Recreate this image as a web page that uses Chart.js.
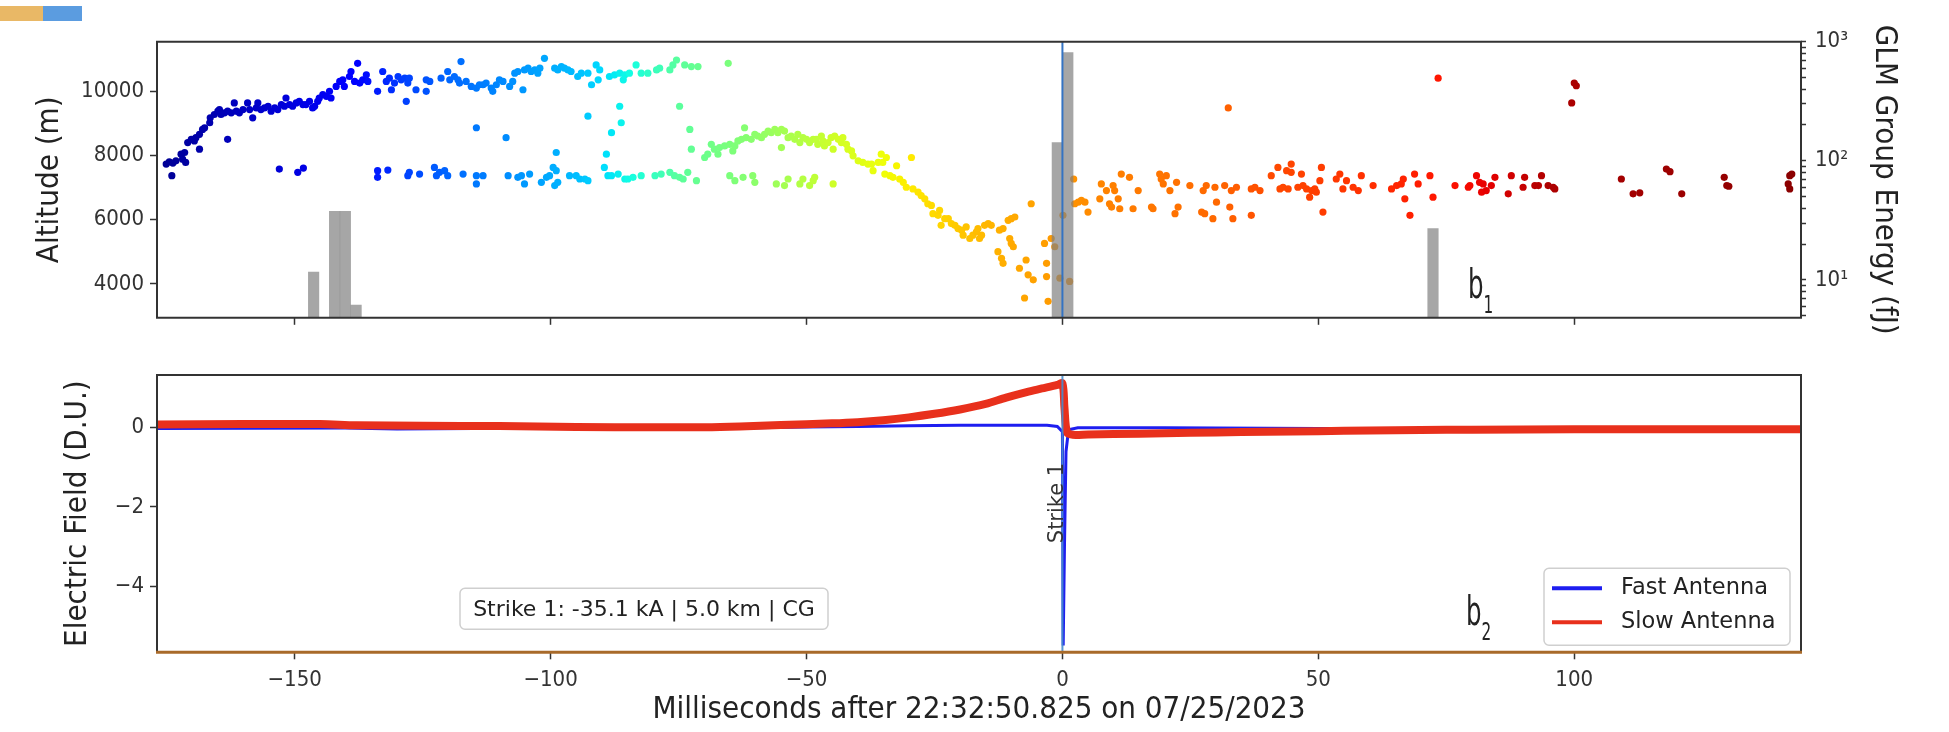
<!DOCTYPE html>
<html>
<head>
<meta charset="utf-8">
<script src="https://cdn.jsdelivr.net/npm/chart.js@4.4.1/dist/chart.umd.min.js"></script>
<style>
  body { margin: 0; background: #fff; width: 1949px; height: 732px; overflow: hidden; position: relative; }
  canvas { position: absolute; left: 0; }
  #topChart { top: 0; }
  #bottomChart { top: 340px; }
  .tab { position: absolute; top: 6px; height: 15px; }
</style>
</head>
<body>
<div class="tab" style="left:0;width:43px;background:#e9b866"></div>
<div class="tab" style="left:43px;width:39px;background:#5b9ce0"></div>
<canvas id="topChart" width="1949" height="340"></canvas>
<canvas id="bottomChart" width="1949" height="392"></canvas>
<script>
var narrow = "'DejaVu Sans Condensed', 'DejaVu Sans', sans-serif";
var plain = "'DejaVu Sans', sans-serif";

// axes
var timeRange = [-176.9, 144.3];
var timeTicks = [-150, -100, -50, 0, 50, 100];
var altRange = [2940, 11550];
var altTicks = [4000, 6000, 8000, 10000];
var energyRange = [4.8, 1000];
var energyTicks = [5, 6, 7, 8, 9, 10, 20, 30, 40, 50, 60, 70, 80, 90, 100, 200, 300, 400, 500, 600, 700, 800, 900, 1000];
var fieldRange = [-5.67, 1.33];
var fieldTicks = [-4, -2, 0];
var strikeTime = [0];

// lightning sources [ms, altitude m]
var upperEarly = [[-175.1,7733],[-174.5,7805],[-173.8,7764],[-174.0,7372],[-173.2,7836],[-172.2,8042],[-171.9,7887],[-171.3,7784],[-171.5,8094],[-170.9,8403],[-170.2,8506],[-169.6,8455],[-169.3,8558],[-168.6,8661],[-168.6,8197],[-168.0,8815],[-167.6,8867],[-166.6,9022],[-166.5,9176],[-165.7,9279],[-165.0,9382],[-164.7,9434],[-164.4,9279],[-163.7,9331],[-163.1,9382],[-163.1,8506],[-162.4,9331],[-161.8,9640],[-161.4,9382],[-160.8,9331],[-160.1,9434],[-159.2,9640],[-158.8,9434],[-158.2,9176],[-157.5,9486],[-157.2,9640],[-156.6,9434],[-155.9,9486],[-155.2,9537],[-154.6,9382],[-153.9,9486],[-153.3,9434],[-152.6,9589],[-152.0,9537],[-151.7,9795],[-151.0,9589],[-150.4,9537],[-149.7,9640],[-149.1,9692],[-148.4,9589],[-147.8,9589],[-147.1,9692],[-146.5,9486],[-146.1,9537],[-145.5,9692],[-145.2,9795],[-144.5,9898],[-143.8,9846],[-143.2,10001],[-142.9,9795],[-141.9,10156],[-141.2,10310],[-140.6,10362],[-140.3,10156],[-139.3,10465],[-139.0,10620],[-138.3,10310],[-137.7,10877],[-137.3,10259],[-136.7,10362],[-136.0,10516],[-135.7,10310],[-133.8,10001],[-132.8,10620],[-132.1,10310],[-131.5,10413],[-131.1,10052],[-130.5,10259],[-129.8,10465],[-129.2,10362],[-128.5,10413],[-128.2,9692],[-127.9,10259],[-127.6,10413],[-126.3,10052],[-124.3,10362],[-124.3,10001]];
var upperMid = [[-123.6,10310],[-121.4,10413],[-120.1,10620],[-119.7,10362],[-118.8,10465],[-118.1,10362],[-117.5,10929],[-117.8,10259],[-116.5,10310],[-115.5,10156],[-114.5,10104],[-113.9,10207],[-113.2,10207],[-112.6,10259],[-111.6,10104],[-111.3,10001],[-110.6,10207],[-110.0,10362],[-109.3,10310],[-108.0,10156],[-107.4,10310],[-107.0,10568],[-106.4,10620],[-105.4,10052],[-105.1,10671],[-104.4,10723],[-103.8,10620],[-103.1,10671],[-102.5,10568],[-102.1,10723],[-101.2,11032],[-99.2,10723],[-98.6,10671],[-97.9,10774],[-97.3,10723],[-96.6,10671],[-96.0,10620],[-94.7,10465],[-94.0,10568],[-92.7,10568],[-92.0,10207],[-91.1,10826],[-90.7,10362],[-90.4,10671],[-88.5,10465],[-87.5,10516],[-86.5,10568],[-85.8,10362],[-85.5,10516],[-84.6,10568],[-83.3,10826],[-82.3,10568],[-81.0,10568],[-79.3,10671],[-78.7,10723],[-76.7,10671],[-76.1,10826],[-75.4,10980],[-73.8,10826],[-72.5,10774],[-71.2,10774],[-65.3,10877]];
var scattered = [[-114.5,8867],[-108.7,8558],[-98.9,8094],[-92.7,9228],[-86.5,9537],[-86.2,9022],[-88.1,8712],[-89.1,8042],[-74.8,9537],[-72.8,8815],[-72.5,8197]];
var lowerBand = [[-153.0,7578],[-149.4,7475],[-148.3,7609],[-133.8,7527],[-133.8,7320],[-131.8,7547],[-127.9,7372],[-127.6,7475],[-125.6,7423],[-122.7,7630],[-122.3,7372],[-121.7,7475],[-120.7,7527],[-120.1,7372],[-117.1,7423],[-114.5,7372],[-114.5,7114],[-113.2,7372],[-108.3,7372],[-106.4,7320],[-105.7,7372],[-105.1,7114],[-104.1,7423],[-101.8,7166],[-100.8,7320],[-100.2,7372],[-99.5,7630],[-99.2,7063],[-98.9,7527],[-98.6,7166],[-96.3,7372],[-95.0,7372],[-94.3,7269],[-93.3,7269],[-92.7,7217],[-89.5,7630],[-88.8,7372],[-88.1,7372],[-86.8,7423],[-85.5,7269],[-84.9,7269],[-83.9,7320],[-82.3,7372],[-79.6,7372],[-78.4,7423],[-76.7,7475],[-75.8,7372],[-74.8,7320],[-74.1,7269],[-73.2,7475],[-71.5,7217],[-65.0,7372],[-64.0,7217],[-62.4,7320],[-60.5,7372],[-60.1,7166],[-55.9,7114],[-54.3,7063],[-53.6,7269],[-51.3,7114],[-50.7,7269],[-49.4,7063],[-48.7,7217],[-48.4,7320],[-44.8,7114]];
var humpBand = [[-69.9,7939],[-69.3,8042],[-68.6,8351],[-68.0,8197],[-67.3,8042],[-67.0,8248],[-66.0,8300],[-65.0,8351],[-64.4,8145],[-64.0,8300],[-63.4,8455],[-62.7,8506],[-62.1,8867],[-61.8,8558],[-60.8,8506],[-60.1,8661],[-59.5,8609],[-58.8,8558],[-58.2,8661],[-57.5,8764],[-56.9,8712],[-56.2,8815],[-55.6,8712],[-54.9,8815],[-54.9,8248],[-54.3,8764],[-53.6,8558],[-53.0,8609],[-52.3,8506],[-51.7,8661],[-51.3,8403],[-50.7,8558],[-50.0,8506],[-49.4,8403],[-48.7,8506],[-48.1,8506],[-47.8,8351],[-47.1,8609],[-46.8,8455],[-46.5,8300],[-45.8,8403],[-45.2,8558],[-44.8,8197],[-44.5,8609],[-43.8,8506],[-43.2,8403],[-42.9,8558],[-42.2,8351],[-41.9,8197],[-41.2,8145],[-40.9,7991],[-39.9,7836],[-39.0,7784],[-38.0,7733],[-37.3,7733],[-37.0,7527],[-36.0,7784],[-35.4,8042],[-35.1,7784],[-34.4,7939],[-34.7,7423],[-33.7,7372],[-33.1,7320],[-32.4,7681],[-31.8,7269],[-31.1,7166],[-30.5,7011],[-29.5,7939],[-29.2,6960],[-28.2,6856],[-27.6,6753],[-26.9,6650],[-26.3,6496],[-25.6,6444],[-25.3,6186],[-24.3,6135],[-24.0,6289],[-23.7,5825],[-23.0,6032],[-22.3,6032],[-21.7,5877],[-21.0,5825],[-20.4,5722],[-19.7,5671],[-19.4,5516],[-18.8,5774],[-18.1,5413],[-17.5,5516],[-16.8,5619],[-16.5,5722]];
var descent = [[-16.2,5413],[-15.8,5516],[-15.2,5825],[-14.5,5877],[-13.9,5825],[-12.3,5671],[-11.6,5722],[-10.6,5980],[-10.0,6032],[-9.3,6083],[-10.3,5413],[-10.0,5258],[-9.6,5155],[-12.6,5001],[-11.9,4795],[-11.6,4640],[-8.4,4485],[-7.1,4743],[-6.7,4279],[-5.7,4124],[-7.4,3557],[-6.1,6496],[-3.5,5258],[-3.1,4640],[-3.1,4227],[-2.8,3454],[-2.2,5413],[-1.5,5155],[-0.5,4176],[0.1,6135],[1.4,4073]];
var afterStrike = [[2.2,7269],[2.4,6496],[3.1,6547],[3.7,6599],[4.4,6547],[5.0,6238],[7.3,6650],[7.6,7114],[8.6,6908],[9.2,6496],[9.6,6393],[9.9,7063],[10.2,6908],[10.9,6650],[11.2,6341],[11.5,7423],[13.1,7320],[13.8,6341],[14.8,6908],[17.4,6393],[17.7,6341],[19.0,7423],[19.3,7269],[19.7,7114],[20.3,7372],[21.0,6908],[22.0,6186],[22.3,7166],[22.6,6393],[24.9,7063],[27.2,6238],[27.5,6908],[27.8,6186],[28.1,7063],[29.4,6032],[29.8,7011],[30.1,6547],[31.7,7063],[32.4,9485],[32.7,6393],[33.0,6908],[33.3,6032],[34.0,7011],[36.9,6960],[36.9,6135],[37.6,7011],[38.6,6908],[40.8,7372],[42.1,7630],[42.5,6960],[43.1,7011],[43.8,7527],[44.1,6960],[44.7,7733],[44.7,7475],[46.0,7011],[46.7,7423],[47.0,7063],[47.7,6960],[48.3,6702],[48.7,6908],[49.3,6960],[49.6,6856],[50.3,7217],[50.6,7630],[50.9,6238]];
var tail = [[53.5,7269],[54.2,7423],[54.8,6960],[55.5,7217],[56.8,7011],[57.8,6908],[58.4,7372],[60.7,7063],[64.3,6960],[65.3,7063],[66.2,7114],[66.6,7269],[66.9,6650],[67.9,6135],[68.8,7423],[69.5,7114],[71.8,7372],[72.4,6702],[73.4,10413],[76.7,7063],[79.3,7011],[79.6,7063],[80.9,7372],[81.5,7166],[81.9,6856],[82.2,7114],[82.8,6908],[83.8,7063],[84.5,7320],[87.1,6805],[87.7,7372],[90.0,7011],[90.3,7320],[92.3,7063],[93.0,7063],[93.6,7372],[94.9,7063],[95.9,7011],[96.2,6960],[99.5,9640],[100.0,10259],[100.4,10176],[109.2,7269],[111.5,6805],[112.8,6836],[118.0,7578],[118.7,7496],[121.0,6805],[129.3,7320],[129.8,7063],[130.2,7042],[141.8,7114],[142.1,7372],[142.1,6960],[142.5,7423]];

// GLM groups (bin centre ms, energy fJ)
var glmTime = [-146.3, -142.2, -140.1, -138.0, -1.0, 1.05, 72.4];
var glmEnergy = [11.6, 37.6, 37.6, 6.15, 142, 810, 27];

// electric field
var slowTime = [-176.9,-160,-145,-138,-125,-110,-95,-80,-70,-63,-55,-45,-40,-35,-30,-25,-20,-15,-11,-7,-4,-1,0,0.4,0.9,2,5,10,20,30,40,50,60,70,80,100,120,144.3];
var slowField = [0.08,0.09,0.09,0.06,0.05,0.04,0.02,0.01,0.01,0.03,0.07,0.11,0.14,0.19,0.26,0.35,0.46,0.6,0.76,0.9,0.99,1.08,1.12,0.5,-0.12,-0.18,-0.17,-0.16,-0.14,-0.12,-0.1,-0.09,-0.07,-0.06,-0.05,-0.04,-0.04,-0.04];
var fastTime = [-176.9,-140,-130,-100,-60,-50,-40,-30,-20,-10,-3,-1,0,0.15,0.4,0.7,1.2,3,20,50,100,144.3];
var fastField = [-0.02,-0.01,-0.03,-0.01,0.0,0.02,0.03,0.05,0.06,0.06,0.06,0.03,-0.1,-5.5,-3.0,-0.6,-0.05,0.0,0.0,-0.02,-0.02,-0.03];

// colour level of the sources along time
var colorTime = [-175, -155, -140, -128, -120, -105, -95, -85, -75, -60, -45, -35, -25, -17, -10, 0, 10, 30, 40, 60, 80, 95, 142.5];
var colorLevel = [0.02, 0.07, 0.11, 0.19, 0.225, 0.275, 0.31, 0.37, 0.46, 0.52, 0.6, 0.64, 0.68, 0.71, 0.73, 0.75, 0.775, 0.8, 0.83, 0.86, 0.9, 0.96, 0.99];

var sup = { 1: '\u00b9', 2: '\u00b2', 3: '\u00b3' };
var R = [[0,0],[0.35,0],[0.66,1],[0.89,1],[1,0.5]];
var G = [[0,0],[0.125,0],[0.375,1],[0.64,1],[0.91,0],[1,0]];
var B = [[0,0.5],[0.11,1],[0.34,1],[0.65,0],[1,0]];

function lerp(xs, ys, v) {
    if (v <= xs[0]) return ys[0];
    for (var i = 1; i < xs.length; i++) {
        if (v <= xs[i]) return ys[i - 1] + (ys[i] - ys[i - 1]) * (v - xs[i - 1]) / (xs[i] - xs[i - 1]);
    }
    return ys[ys.length - 1];
}

function jet(v) {
    function seg(pts) {
        return lerp(pts.map(function (p) { return p[0]; }), pts.map(function (p) { return p[1]; }), v);
    }
    return 'rgb(' + Math.round(255 * seg(R)) + ',' + Math.round(255 * seg(G)) + ',' + Math.round(255 * seg(B)) + ')';
}

function minusLabel(v) {
    return v < 0 ? '\u2212' + Math.abs(v) : String(v);
}

function setTicks(list) {
    return function (scale) {
        scale.ticks = list.map(function (v) { return { value: v }; });
    };
}

function tickGrid(len) {
    return { offset: false, drawOnChartArea: false, drawTicks: true, tickLength: len, color: '#333', tickWidth: 1.5 };
}

var sources = upperEarly.concat(upperMid, scattered, lowerBand, humpBand, descent, afterStrike, tail)
    .map(function (p) { return { x: p[0], y: p[1] }; });
var sourceColors = sources.map(function (p) { return jet(lerp(colorTime, colorLevel, p.x)); });

var frame = {
    id: 'frame',
    afterDatasetsDraw: function (chart, args, opts) {
        var a = chart.chartArea, ctx = chart.ctx;
        ctx.save();
        ctx.strokeStyle = '#333';
        ctx.lineWidth = 2;
        ctx.beginPath();
        ctx.moveTo(a.left, a.bottom);
        ctx.lineTo(a.left, a.top);
        ctx.lineTo(a.right, a.top);
        ctx.lineTo(a.right, a.bottom);
        ctx.stroke();
        ctx.strokeStyle = opts.bottomColor || '#333';
        ctx.lineWidth = opts.bottomWidth || 2;
        ctx.beginPath();
        ctx.moveTo(a.left - 1, a.bottom);
        ctx.lineTo(a.right + 1, a.bottom);
        ctx.stroke();
        ctx.restore();
    }
};

function panelTag(ctx, x, y, sub) {
    ctx.save();
    ctx.fillStyle = '#222';
    ctx.textBaseline = 'alphabetic';
    ctx.translate(x, y);
    ctx.scale(0.68, 1);
    ctx.font = '40px ' + narrow;
    ctx.fillText('b', 0, 0);
    var w = ctx.measureText('b').width;
    ctx.font = '25px ' + narrow;
    ctx.fillText(sub, w, 15);
    ctx.restore();
}

var topNotes = {
    id: 'topNotes',
    afterDraw: function (chart) {
        panelTag(chart.ctx, 1468, 298, '1');
    }
};

var bottomNotes = {
    id: 'bottomNotes',
    afterDraw: function (chart) {
        var ctx = chart.ctx, a = chart.chartArea;
        var sx = chart.scales.x.getPixelForValue(strikeTime[0]);

        ctx.save();
        ctx.translate(sx + 1, a.top + 128);
        ctx.rotate(-Math.PI / 2);
        ctx.font = '21px ' + plain;
        ctx.fillStyle = '#333';
        ctx.textAlign = 'center';
        ctx.textBaseline = 'alphabetic';
        ctx.fillText('Strike 1', 0, 0);
        ctx.restore();

        panelTag(ctx, 1466, 285, '2');

        // info box
        ctx.save();
        var bx = a.left + 303, by = a.bottom - 64, bw = 368, bh = 41;
        ctx.fillStyle = 'rgba(255,255,255,0.85)';
        ctx.strokeStyle = '#cfcfcf';
        ctx.lineWidth = 1.5;
        ctx.beginPath();
        ctx.roundRect(bx, by, bw, bh, 5);
        ctx.fill();
        ctx.stroke();
        ctx.font = '22px ' + plain;
        ctx.fillStyle = '#222';
        ctx.textAlign = 'center';
        ctx.textBaseline = 'middle';
        ctx.fillText('Strike 1: -35.1 kA | 5.0 km | CG', bx + bw / 2, by + bh / 2 + 1);
        ctx.restore();

        // legend
        ctx.save();
        var lw = 246, lh = 77;
        var lx = a.right - 11 - lw, ly = a.bottom - 7 - lh;
        ctx.fillStyle = 'rgba(255,255,255,0.85)';
        ctx.strokeStyle = '#cfcfcf';
        ctx.lineWidth = 1.5;
        ctx.beginPath();
        ctx.roundRect(lx, ly, lw, lh, 5);
        ctx.fill();
        ctx.stroke();
        ctx.font = '22.5px ' + plain;
        ctx.textBaseline = 'middle';
        var items = chart.data.datasets.filter(function (d) { return d.label; });
        items.forEach(function (d, i) {
            var yy = ly + 20 + i * 34;
            ctx.strokeStyle = d.legendColor;
            ctx.lineWidth = 4;
            ctx.beginPath();
            ctx.moveTo(lx + 8, yy);
            ctx.lineTo(lx + 58, yy);
            ctx.stroke();
            ctx.fillStyle = '#222';
            ctx.fillText(d.label, lx + 77, yy);
        });
        ctx.restore();
    }
};

Chart.defaults.font.family = narrow;
Chart.defaults.font.size = 22;
Chart.defaults.color = '#333';

var titleFont = { family: narrow, size: 31 };

new Chart(document.getElementById('topChart'), {
    type: 'scatter',
    data: {
        datasets: [
            {
                type: 'line',
                data: [{ x: strikeTime[0], y: altRange[0] }, { x: strikeTime[0], y: altRange[1] }],
                borderColor: 'rgb(52,115,195)',
                borderWidth: 2,
                pointRadius: 0,
                showLine: true,
                yAxisID: 'y',
                order: 0
            },
            {
                type: 'bar',
                data: glmTime.map(function (t, i) { return { x: t, y: glmEnergy[i] }; }),
                backgroundColor: 'rgba(128,128,128,0.7)',
                borderWidth: 0,
                barPercentage: 1,
                categoryPercentage: 1,
                yAxisID: 'y2',
                order: 1
            },
            {
                type: 'scatter',
                data: sources,
                backgroundColor: sourceColors,
                borderWidth: 0,
                pointRadius: 3.6,
                yAxisID: 'y',
                order: 2
            }
        ]
    },
    options: {
        responsive: false,
        animation: false,
        events: [],
        layout: { padding: { top: 41.7, left: 0, right: 0, bottom: 0 } },
        plugins: {
            legend: { display: false },
            tooltip: { enabled: false },
            frame: {}
        },
        scales: {
            x: {
                type: 'linear',
                offset: false,
                min: timeRange[0],
                max: timeRange[1],
                afterBuildTicks: setTicks(timeTicks),
                afterFit: function (s) { s.height = 19.5; },
                ticks: { display: false, autoSkip: false },
                grid: tickGrid(7),
                border: { display: false }
            },
            y: {
                type: 'linear',
                position: 'left',
                min: altRange[0],
                max: altRange[1],
                afterBuildTicks: setTicks(altTicks),
                afterFit: function (s) { s.width = 157; },
                ticks: { autoSkip: false, padding: 6, callback: function (v) { return String(v); } },
                grid: tickGrid(7),
                border: { display: false },
                title: { display: true, text: 'Altitude (m)', font: titleFont, color: '#222', padding: { top: 31.4, bottom: 0 } }
            },
            y2: {
                type: 'logarithmic',
                position: 'right',
                min: energyRange[0],
                max: energyRange[1],
                afterBuildTicks: setTicks(energyTicks),
                afterFit: function (s) { s.width = 148; },
                ticks: {
                    autoSkip: false,
                    padding: 9,
                    callback: function (v) {
                        var e = Math.log10(v);
                        return Math.abs(e - Math.round(e)) < 1e-9 ? '10' + sup[Math.round(e)] : '';
                    }
                },
                grid: tickGrid(5),
                border: { display: false },
                title: { display: true, text: 'GLM Group Energy (fJ)', font: titleFont, color: '#222', padding: { top: 46.4, bottom: 0 } }
            }
        }
    },
    plugins: [frame, topNotes]
});

new Chart(document.getElementById('bottomChart'), {
    type: 'scatter',
    data: {
        datasets: [
            {
                type: 'line',
                data: [{ x: strikeTime[0], y: fieldRange[0] }, { x: strikeTime[0], y: fieldRange[1] }],
                borderColor: 'rgba(70,140,205,0.9)',
                borderWidth: 2,
                pointRadius: 0,
                showLine: true,
                order: 0
            },
            {
                type: 'line',
                label: 'Fast Antenna',
                legendColor: 'rgb(30,30,240)',
                data: fastTime.map(function (t, i) { return { x: t, y: fastField[i] }; }),
                borderColor: 'rgb(30,30,240)',
                borderWidth: 3,
                pointRadius: 0,
                tension: 0,
                showLine: true,
                clip: 0,
                order: 2
            },
            {
                type: 'line',
                label: 'Slow Antenna',
                legendColor: 'rgb(232,48,28)',
                data: slowTime.map(function (t, i) { return { x: t, y: slowField[i] }; }),
                borderColor: 'rgb(232,48,28)',
                borderWidth: 8,
                pointRadius: 0,
                tension: 0.3,
                showLine: true,
                clip: 0,
                order: 1
            }
        ]
    },
    options: {
        responsive: false,
        animation: false,
        events: [],
        layout: { padding: { top: 35, left: 0, right: 148, bottom: 0 } },
        plugins: {
            legend: { display: false },
            tooltip: { enabled: false },
            frame: { bottomColor: '#a86a2a', bottomWidth: 3 }
        },
        scales: {
            x: {
                type: 'linear',
                offset: false,
                min: timeRange[0],
                max: timeRange[1],
                afterBuildTicks: setTicks(timeTicks),
                afterFit: function (s) { s.height = 79.7; },
                ticks: { autoSkip: false, maxRotation: 0, padding: 8.2, callback: minusLabel },
                grid: tickGrid(7),
                border: { display: false },
                title: { display: true, text: 'Milliseconds after 22:32:50.825 on 07/25/2023', font: titleFont, color: '#222', padding: { top: 0, bottom: 3.4 } }
            },
            y: {
                type: 'linear',
                position: 'left',
                min: fieldRange[0],
                max: fieldRange[1],
                afterBuildTicks: setTicks(fieldTicks),
                afterFit: function (s) { s.width = 157; },
                ticks: { autoSkip: false, padding: 6, callback: minusLabel },
                grid: tickGrid(7),
                border: { display: false },
                title: { display: true, text: 'Electric Field (D.U.)', font: titleFont, color: '#222', padding: { top: 59.4, bottom: 0 } }
            }
        }
    },
    plugins: [frame, bottomNotes]
});
</script>
</body>
</html>
